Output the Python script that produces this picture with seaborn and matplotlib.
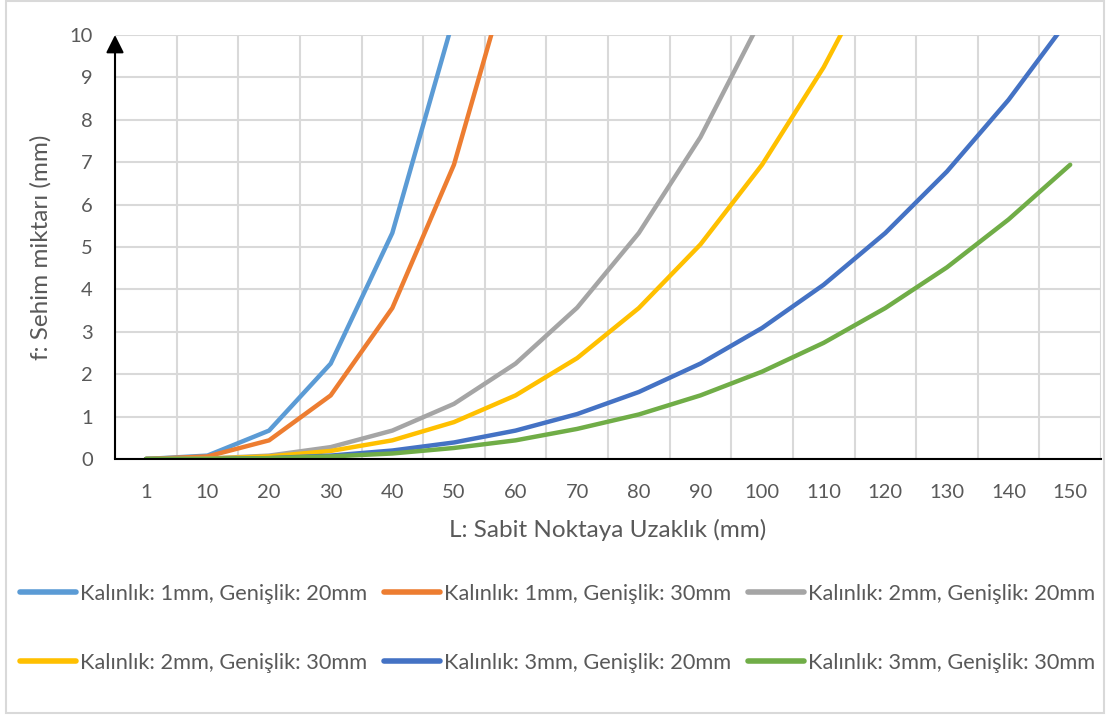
import matplotlib
matplotlib.use("Agg")
import matplotlib.pyplot as plt
from matplotlib.patches import Rectangle
import seaborn as sns
import pandas as pd

# Distance from the fixed point (mm), shown as categories
distances = ["1", "10", "20", "30", "40", "50", "60", "70", "80",
             "90", "100", "110", "120", "130", "140", "150"]

# Deflection values (mm) for each strip
t1_w20 = [0.00, 0.08, 0.67, 2.25, 5.33, 10.42, 18.00, 28.58, 42.67, 60.75,
          83.33, 110.92, 144.00, 183.08, 228.67, 281.25]
t1_w30 = [0.00, 0.06, 0.44, 1.50, 3.56, 6.94, 12.00, 19.06, 28.44, 40.50,
          55.56, 73.94, 96.00, 122.06, 152.44, 187.50]
t2_w20 = [0.00, 0.01, 0.08, 0.28, 0.67, 1.30, 2.25, 3.57, 5.33, 7.59,
          10.42, 13.86, 18.00, 22.89, 28.58, 35.16]
t2_w30 = [0.00, 0.01, 0.06, 0.19, 0.44, 0.87, 1.50, 2.38, 3.56, 5.06,
          6.94, 9.24, 12.00, 15.26, 19.06, 23.44]
t3_w20 = [0.00, 0.00, 0.02, 0.08, 0.20, 0.39, 0.67, 1.06, 1.58, 2.25,
          3.09, 4.11, 5.33, 6.78, 8.47, 10.42]
t3_w30 = [0.00, 0.00, 0.02, 0.06, 0.13, 0.26, 0.44, 0.71, 1.05, 1.50,
          2.06, 2.74, 3.56, 4.52, 5.65, 6.94]

series_names = [
    "Kalınlık: 1mm, Genişlik: 20mm",
    "Kalınlık: 1mm, Genişlik: 30mm",
    "Kalınlık: 2mm, Genişlik: 20mm",
    "Kalınlık: 2mm, Genişlik: 30mm",
    "Kalınlık: 3mm, Genişlik: 20mm",
    "Kalınlık: 3mm, Genişlik: 30mm",
]
series_values = [t1_w20, t1_w30, t2_w20, t2_w30, t3_w20, t3_w30]
colors = ["#5B9BD5", "#ED7D31", "#A5A5A5", "#FFC000", "#4472C4", "#70AD47"]

rows = []
for name, vals in zip(series_names, series_values):
    for i, v in enumerate(vals):
        rows.append({"pos": i, "f": v, "series": name})
df = pd.DataFrame(rows)

sns.set_theme(style="white")
plt.rcParams["font.family"] = ["Lato", "DejaVu Sans"]
text_color = "#595959"

fig = plt.figure(figsize=(11.15, 7.17), dpi=100)
ax = fig.add_axes([115 / 1115, 1 - 459 / 717, 986 / 1115, 424 / 717])

sns.lineplot(data=df, x="pos", y="f", hue="series", hue_order=series_names,
             palette=colors, linewidth=3.2, ax=ax, legend=True,
             solid_capstyle="round", solid_joinstyle="round")

ax.set_xlim(-0.5, len(distances) - 0.5)
ax.set_ylim(0, 10)
ax.set_xticks(range(len(distances)))
ax.set_xticklabels(distances)
ax.set_xticks([i - 0.5 for i in range(len(distances) + 1)], minor=True)
ax.set_yticks(range(0, 11))
ax.tick_params(axis="both", which="both", length=0, labelsize=14.5,
               labelcolor=text_color)
ax.tick_params(axis="x", pad=18)
ax.tick_params(axis="y", pad=16)

ax.grid(False)
ax.grid(True, axis="y", which="major", color="#D9D9D9", linewidth=1.5)
ax.grid(True, axis="x", which="minor", color="#D9D9D9", linewidth=1.5)
ax.set_axisbelow(True)
for side in ["top", "right", "left"]:
    ax.spines[side].set_visible(False)
ax.spines["bottom"].set_color("black")
ax.spines["bottom"].set_linewidth(1.5)
ax.spines["bottom"].set_zorder(5)

# y axis drawn as an arrow
ax.annotate("", xy=(0, 1.0), xytext=(0, 0), xycoords="axes fraction",
            textcoords="axes fraction",
            arrowprops=dict(arrowstyle="-|>,head_length=0.9,head_width=0.45",
                            color="black", lw=1.5, shrinkA=0, shrinkB=0),
            zorder=6)

ax.set_xlabel("L: Sabit Noktaya Uzaklık (mm)", fontsize=17.5, color=text_color,
              labelpad=13)
ax.set_ylabel("f: Sehim miktarı (mm)", fontsize=17.5, color=text_color,
              labelpad=13)

handles, labels = ax.get_legend_handles_labels()
ax.legend_.remove()
for h in handles:
    h.set_linewidth(4)
    h.set_solid_capstyle("round")
# fill the 3-column legend row by row
order = [0, 3, 1, 4, 2, 5]
handles = [handles[i] for i in order]
labels = [labels[i] for i in order]
fig.legend(handles, labels, ncol=3, loc="center", bbox_to_anchor=(0.5, 0.124),
           frameon=False, fontsize=15.7, handlelength=2.55, handletextpad=0.18,
           columnspacing=0.8, labelspacing=2.25, labelcolor=text_color)

# chart outer border
fig.patches.append(Rectangle((6 / 1115, 4 / 717), 1098 / 1115, 712 / 717,
                             transform=fig.transFigure, fill=False,
                             edgecolor="#D9D9D9", linewidth=1.5))

fig.savefig("out.png", dpi=100, facecolor="white")
